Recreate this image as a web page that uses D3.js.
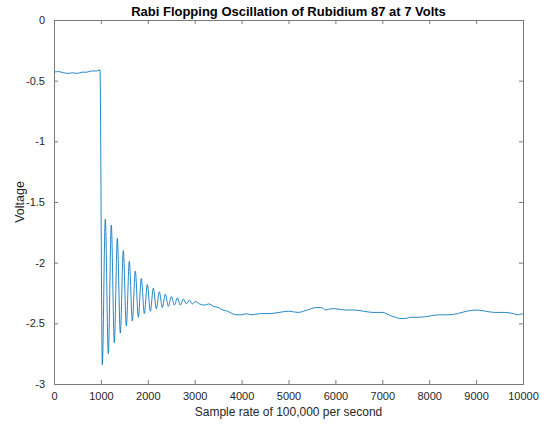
<!DOCTYPE html>
<html>
<head>
<meta charset="utf-8">
<script src="https://cdn.jsdelivr.net/npm/d3@7"></script>
<style>
  html, body { margin: 0; padding: 0; background: #fff; }
  svg { display: block; font-family: "Liberation Sans", Arial, Helvetica, sans-serif; }
</style>
</head>
<body>
<svg id="chart" width="544" height="427"></svg>
<script>
// Sample index (at 100,000 samples per second) and the measured voltage
const sampleIndex = [
  0, 100, 200, 300, 400, 500, 600, 700, 800, 900, 960, 980,
  1030, 1094, 1158, 1222, 1286, 1350, 1414, 1478, 1542, 1606,
  1670, 1734, 1798, 1862, 1926, 1990, 2054, 2118, 2182, 2246,
  2310, 2374, 2438, 2502, 2566, 2630, 2694, 2758, 2822, 2886,
  2950, 3014,
  3100, 3200, 3300, 3400, 3500, 3600, 3700, 3800, 3900, 4000,
  4100, 4200, 4400, 4600, 4800, 5000, 5200, 5400, 5600, 5700,
  5800, 5900, 6000, 6200, 6400, 6600, 6800, 7000, 7200, 7400,
  7500, 7600, 7800, 8000, 8200, 8400, 8600, 8800, 9000, 9200,
  9400, 9600, 9800, 9900, 10000
];
const voltage = [
  -0.43, -0.425, -0.435, -0.44, -0.435, -0.44, -0.43, -0.43, -0.42, -0.42, -0.415, -0.41,
  -2.84, -1.64, -2.75, -1.69, -2.66, -1.80, -2.58, -1.90, -2.52, -1.99,
  -2.48, -2.07, -2.45, -2.13, -2.42, -2.18, -2.40, -2.21, -2.38, -2.24,
  -2.37, -2.26, -2.36, -2.28, -2.35, -2.29, -2.35, -2.30, -2.34, -2.31,
  -2.34, -2.32,
  -2.34, -2.35, -2.34, -2.36, -2.37, -2.39, -2.40, -2.42, -2.43, -2.43,
  -2.42, -2.43, -2.42, -2.42, -2.41, -2.40, -2.41, -2.39, -2.37, -2.37,
  -2.39, -2.38, -2.38, -2.39, -2.39, -2.40, -2.41, -2.41, -2.44, -2.46,
  -2.46, -2.45, -2.45, -2.44, -2.43, -2.43, -2.42, -2.40, -2.39, -2.40,
  -2.41, -2.41, -2.42, -2.43, -2.42
];
const xTicks = [0, 1000, 2000, 3000, 4000, 5000, 6000, 7000, 8000, 9000, 10000];
const yTicks = [0, -0.5, -1, -1.5, -2, -2.5, -3];

const titleText = "Rabi Flopping Oscillation of Rubidium 87 at 7 Volts";
const xLabel = "Sample rate of 100,000 per second";
const yLabel = "Voltage";

const W = 544, H = 427;
const margin = { top: 20, right: 21, bottom: 43, left: 54 };
const iw = W - margin.left - margin.right;
const ih = H - margin.top - margin.bottom;

const svg = d3.select("#chart");
const g = svg.append("g").attr("transform", `translate(${margin.left},${margin.top})`);

const x = d3.scaleLinear().domain([0, 10000]).range([0, iw]);
const y = d3.scaleLinear().domain([-3, 0]).range([ih, 0]);

const axisColor = "#7a7a7a";
const textColor = "#262626";
const tickLen = 4;

// data line
const pts = sampleIndex.map((s, i) => [s, voltage[i]]);
const line = d3.line()
  .x(d => x(d[0]))
  .y(d => y(d[1]))
  .curve(d3.curveMonotoneX);

g.append("path")
  .datum(pts)
  .attr("fill", "none")
  .attr("stroke", "#0072BD")
  .attr("stroke-width", 0.85)
  .attr("d", line);

// axes: ticks point inward on all four sides, box closed
function styleAxis(sel) {
  sel.select(".domain").remove();
  sel.selectAll(".tick line").attr("stroke", axisColor);
  sel.selectAll(".tick text")
    .attr("fill", textColor)
    .style("font-size", "11px")
    .style("font-family", '"Liberation Sans", Arial, sans-serif');
}

const fmtY = d => d === 0 ? "0" : d3.format("")(d).replace("−", "-");

g.append("g")
  .attr("transform", `translate(0,${ih})`)
  .call(d3.axisBottom(x).tickValues(xTicks).tickSizeInner(-tickLen).tickSizeOuter(0).tickPadding(8).tickFormat(d3.format("d")))
  .call(styleAxis);

g.append("g")
  .call(d3.axisTop(x).tickValues(xTicks).tickSizeInner(-tickLen).tickSizeOuter(0).tickFormat(""))
  .call(styleAxis);

g.append("g")
  .call(d3.axisLeft(y).tickValues(yTicks).tickSizeInner(-tickLen).tickSizeOuter(0).tickPadding(9).tickFormat(fmtY))
  .call(styleAxis);

g.append("g")
  .attr("transform", `translate(${iw},0)`)
  .call(d3.axisRight(y).tickValues(yTicks).tickSizeInner(-tickLen).tickSizeOuter(0).tickFormat(""))
  .call(styleAxis);

// box
g.append("rect")
  .attr("x", 0).attr("y", 0).attr("width", iw).attr("height", ih)
  .attr("fill", "none")
  .attr("stroke", axisColor)
  .attr("stroke-width", 1)
  .attr("shape-rendering", "crispEdges");

// title
svg.append("text")
  .attr("x", margin.left + iw / 2)
  .attr("y", 16)
  .attr("text-anchor", "middle")
  .attr("fill", "#000")
  .style("font-weight", "bold")
  .style("font-size", "13px")
  .text(titleText);

// axis labels
svg.append("text")
  .attr("x", margin.left + iw / 2)
  .attr("y", 416)
  .attr("text-anchor", "middle")
  .attr("fill", textColor)
  .style("font-size", "12px")
  .text(xLabel);

svg.append("text")
  .attr("transform", `translate(24,${margin.top + ih / 2}) rotate(-90)`)
  .attr("text-anchor", "middle")
  .attr("fill", textColor)
  .style("font-size", "12.5px")
  .text(yLabel);
</script>
</body>
</html>
